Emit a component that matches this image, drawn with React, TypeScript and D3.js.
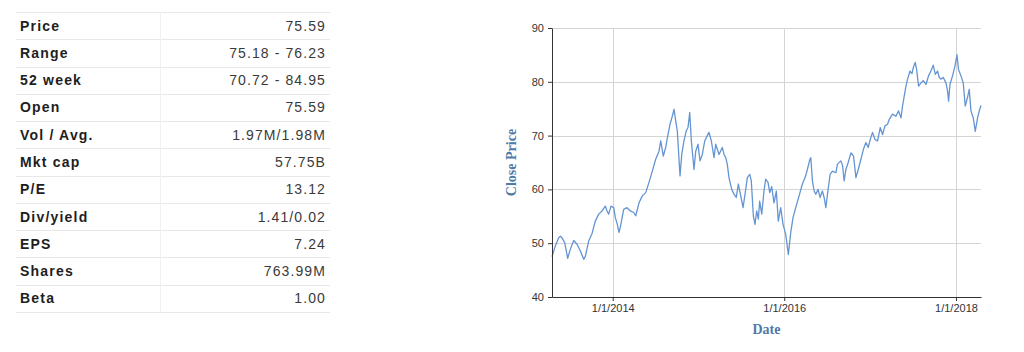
import React, { useEffect, useRef } from "react";
import * as d3 from "d3";

// ---- Table data ----
const statLabels = ["Price", "Range", "52 week", "Open", "Vol / Avg.", "Mkt cap", "P/E", "Div/yield", "EPS", "Shares", "Beta"];
const statValues = ["75.59", "75.18 - 76.23", "70.72 - 84.95", "75.59", "1.97M/1.98M", "57.75B", "13.12", "1.41/0.02", "7.24", "763.99M", "1.00"];

// ---- Chart data (dates as decimal years, close price) ----
const dateYears = [
  2013.292, 2013.331, 2013.370, 2013.391, 2013.409, 2013.440, 2013.475, 2013.506, 2013.545, 2013.584,
  2013.622, 2013.662, 2013.680, 2013.720, 2013.759, 2013.797, 2013.837, 2013.875, 2013.914, 2013.934,
  2013.953, 2013.980, 2014.012, 2014.030, 2014.054, 2014.073, 2014.089, 2014.128, 2014.167, 2014.205,
  2014.245, 2014.268, 2014.307, 2014.345, 2014.385, 2014.423, 2014.462, 2014.501, 2014.540, 2014.560,
  2014.590, 2014.618, 2014.637, 2014.668, 2014.695, 2014.715, 2014.735, 2014.753, 2014.785, 2014.805,
  2014.831, 2014.858, 2014.878, 2014.898, 2014.917, 2014.948, 2014.968, 2014.995, 2015.018, 2015.045,
  2015.073, 2015.103, 2015.123, 2015.150, 2015.181, 2015.201, 2015.240, 2015.278, 2015.298, 2015.318,
  2015.336, 2015.356, 2015.388, 2015.415, 2015.441, 2015.465, 2015.493, 2015.520, 2015.543, 2015.570,
  2015.598, 2015.616, 2015.640, 2015.659, 2015.679, 2015.698, 2015.714, 2015.738, 2015.764, 2015.784,
  2015.811, 2015.831, 2015.854, 2015.881, 2015.908, 2015.931, 2015.959, 2015.986, 2016.017, 2016.048,
  2016.076, 2016.103, 2016.134, 2016.173, 2016.211, 2016.243, 2016.269, 2016.297, 2016.309, 2016.328,
  2016.348, 2016.367, 2016.394, 2016.417, 2016.444, 2016.464, 2016.484, 2016.503, 2016.534, 2016.561,
  2016.601, 2016.619, 2016.659, 2016.678, 2016.697, 2016.717, 2016.744, 2016.776, 2016.806, 2016.834,
  2016.861, 2016.892, 2016.922, 2016.950, 2016.977, 2017.001, 2017.027, 2017.055, 2017.086, 2017.117,
  2017.144, 2017.172, 2017.202, 2017.222, 2017.261, 2017.300, 2017.331, 2017.359, 2017.377, 2017.397,
  2017.417, 2017.436, 2017.464, 2017.487, 2017.502, 2017.525, 2017.541, 2017.564, 2017.592, 2017.619,
  2017.650, 2017.680, 2017.708, 2017.735, 2017.759, 2017.785, 2017.805, 2017.825, 2017.852, 2017.883,
  2017.902, 2017.914, 2017.930, 2017.960, 2017.988, 2018.012, 2018.030, 2018.058, 2018.085, 2018.108,
  2018.135, 2018.155, 2018.175, 2018.202, 2018.225, 2018.252, 2018.272, 2018.292,
];
const closePrices = [
  47.5, 49.5, 51.0, 51.3, 51.0, 50.1, 47.2, 48.9, 50.5, 49.8,
  48.6, 47.0, 47.5, 50.4, 51.8, 54.1, 55.4, 56.0, 56.9, 56.0,
  55.4, 56.9, 56.6, 54.8, 53.5, 52.0, 53.0, 56.3, 56.6, 56.0,
  55.7, 55.1, 57.5, 58.8, 59.4, 61.3, 63.4, 65.6, 67.1, 69.0,
  66.2, 67.8, 69.6, 72.1, 73.6, 74.9, 72.7, 70.9, 62.5, 66.5,
  69.0, 70.9, 71.5, 74.3, 69.0, 63.7, 67.1, 68.4, 65.3, 66.5,
  69.0, 70.0, 70.6, 69.0, 65.9, 68.4, 66.5, 67.8, 66.5, 65.9,
  64.7, 62.2, 60.0, 59.1, 58.5, 61.0, 58.8, 56.6, 59.1, 62.2,
  62.8, 61.6, 55.1, 53.5, 56.0, 54.5, 57.8, 55.4, 59.7, 61.9,
  61.3, 59.4, 60.5, 57.5, 59.7, 54.1, 56.6, 53.5, 51.7, 47.9,
  52.0, 54.8, 56.6, 58.8, 61.0, 62.2, 63.7, 65.5, 65.9, 61.6,
  59.7, 59.1, 60.0, 58.5, 59.7, 58.5, 56.6, 59.1, 62.8, 63.4,
  63.1, 64.7, 65.3, 64.5, 61.6, 63.7, 65.0, 66.8, 66.2, 62.2,
  63.7, 65.6, 67.5, 68.7, 67.8, 69.3, 70.6, 69.3, 69.0, 71.5,
  70.2, 71.8, 72.1, 73.0, 74.0, 73.6, 74.6, 73.3, 75.5, 77.4,
  79.2, 80.5, 82.0, 81.5, 82.6, 83.6, 82.3, 79.2, 79.8, 80.2,
  79.5, 81.1, 82.0, 83.1, 81.4, 82.0, 80.8, 80.5, 80.8, 79.8,
  78.3, 76.4, 79.5, 81.1, 82.9, 85.0, 82.3, 81.1, 79.8, 75.5,
  77.1, 78.6, 74.6, 73.3, 70.8, 73.3, 74.6, 75.6,
];
const yTicks = [40, 50, 60, 70, 80, 90];
const xAxisTitle = "Date";
const yAxisTitle = "Close Price";

function yearToDate(y: number): Date {
  const yr = Math.floor(y);
  const start = Date.UTC(yr, 0, 1);
  const end = Date.UTC(yr + 1, 0, 1);
  return new Date(start + (y - yr) * (end - start));
}

const W = 1024;
const H = 352;
const plot = { left: 552, right: 981, top: 28, bottom: 297 };
const table = { left: 16, right: 330, split: 160, top: 12, bottom: 312 };

export default function App() {
  const xAxisRef = useRef<SVGGElement>(null);
  const yAxisRef = useRef<SVGGElement>(null);

  const data = dateYears.map((d, i) => ({ date: yearToDate(d), value: closePrices[i] }));
  const x = d3
    .scaleUtc()
    .domain([data[0].date, data[data.length - 1].date])
    .range([plot.left, plot.right]);
  const y = d3.scaleLinear().domain([40, 90]).range([plot.bottom, plot.top]);
  const xTicks = x.ticks(d3.utcYear.every(2) as any);
  const fmt = d3.utcFormat("%-m/%-d/%Y");

  const line = d3
    .line<{ date: Date; value: number }>()
    .x((d) => x(d.date))
    .y((d) => y(d.value));

  useEffect(() => {
    if (xAxisRef.current) {
      const g = d3.select(xAxisRef.current);
      g.selectAll("*").remove();
      g.call(
        d3.axisBottom(x).tickValues(xTicks).tickFormat((d: any) => fmt(d)).tickSize(4).tickSizeOuter(0)
      );
      g.select(".domain").attr("stroke", "#333");
      g.selectAll(".tick line").attr("stroke", "#333");
      g.selectAll(".tick text")
        .attr("fill", "#333")
        .style("font-family", "'Liberation Sans', Arial, sans-serif")
        .style("font-size", "11px");
    }
    if (yAxisRef.current) {
      const g = d3.select(yAxisRef.current);
      g.selectAll("*").remove();
      g.call(d3.axisLeft(y).tickValues(yTicks).tickSize(4).tickSizeOuter(0).tickPadding(4));
      g.select(".domain").attr("stroke", "#333");
      g.selectAll(".tick line").attr("stroke", "#333");
      g.selectAll(".tick text")
        .attr("fill", "#333")
        .style("font-family", "'Liberation Sans', Arial, sans-serif")
        .style("font-size", "11px");
    }
  });

  const rowH = (table.bottom - table.top) / statLabels.length;

  return (
    <svg
      width={W}
      height={H}
      style={{ position: "absolute", left: 0, top: 0, background: "#fff" }}
    >
      {/* Table */}
      <g>
        {statLabels.map((lab, i) => {
          const top = table.top + i * rowH;
          return (
            <g key={lab}>
              <text
                x={table.left + 4}
                y={top + rowH / 2 + 5}
                fill="#1e1e1e"
                fontFamily="'Liberation Sans', Arial, sans-serif"
                fontWeight="bold"
                fontSize={14}
                letterSpacing={1.2}
              >
                {lab}
              </text>
              <text
                x={table.right - 4}
                y={top + rowH / 2 + 5}
                fill="#3a3a3a"
                textAnchor="end"
                fontFamily="'Liberation Sans', Arial, sans-serif"
                fontSize={14}
                letterSpacing={1.1}
              >
                {statValues[i]}
              </text>
            </g>
          );
        })}
        {d3.range(statLabels.length + 1).map((i) => (
          <line
            key={"h" + i}
            x1={table.left}
            x2={table.right}
            y1={Math.round(table.top + i * rowH) + 0.5}
            y2={Math.round(table.top + i * rowH) + 0.5}
            stroke="#e8e8e8"
          />
        ))}
        <line
          x1={table.split + 0.5}
          x2={table.split + 0.5}
          y1={table.top}
          y2={table.bottom}
          stroke="#f0f0f0"
        />
      </g>

      {/* Grid */}
      <g>
        {yTicks.map((t) => (
          <line
            key={"gy" + t}
            x1={plot.left}
            x2={plot.right}
            y1={Math.round(y(t)) + 0.5}
            y2={Math.round(y(t)) + 0.5}
            stroke="#d4d4d4"
          />
        ))}
        {xTicks.map((t) => (
          <line
            key={"gx" + t.getTime()}
            x1={Math.round(x(t)) + 0.5}
            x2={Math.round(x(t)) + 0.5}
            y1={plot.top}
            y2={plot.bottom}
            stroke="#d4d4d4"
          />
        ))}
      </g>

      <path d={line(data) || ""} fill="none" stroke="#6495d2" strokeWidth={1.3} strokeLinejoin="round" />

      <g ref={xAxisRef} transform={`translate(0,${plot.bottom})`} />
      <g ref={yAxisRef} transform={`translate(${plot.left},0)`} />

      <text
        x={(plot.left + plot.right) / 2}
        y={334}
        textAnchor="middle"
        fill="#4e7aa8"
        fontFamily="'Liberation Serif', 'Times New Roman', serif"
        fontWeight="bold"
        fontSize={14}
      >
        {xAxisTitle}
      </text>
      <text
        transform={`translate(516,${(plot.top + plot.bottom) / 2}) rotate(-90)`}
        textAnchor="middle"
        fill="#4e7aa8"
        fontFamily="'Liberation Serif', 'Times New Roman', serif"
        fontWeight="bold"
        fontSize={14}
      >
        {yAxisTitle}
      </text>
    </svg>
  );
}
